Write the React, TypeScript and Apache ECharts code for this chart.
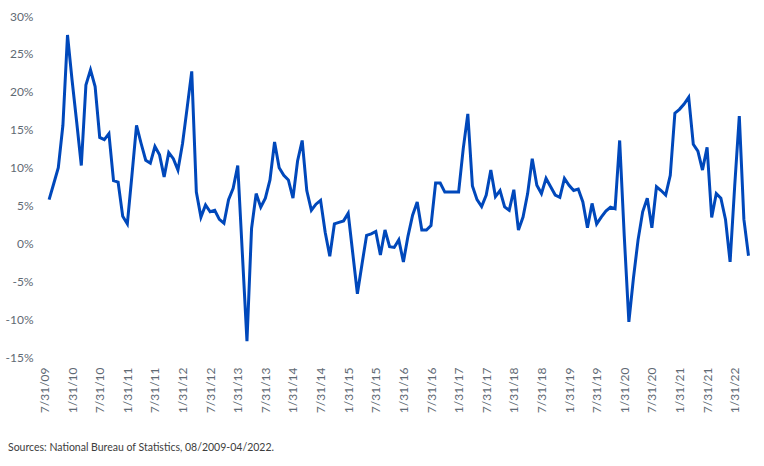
import React, { useEffect, useRef } from "react";
import * as echarts from "echarts";

// Year-over-year growth (%), monthly, 08/2009 – 04/2022.
// The axis opens one month earlier (7/31/09), so the first slot is empty.
const yoyGrowth: (number | null)[] = [
  null,
  // 2009 Aug–Dec
  5.8, 7.9, 10.0, 15.6, 27.5,
  // 2010
  21.5, 16.0, 10.3, 20.9, 22.9, 20.7, 14.0, 13.7, 14.5, 8.3, 8.1, 3.6,
  // 2011
  2.6, 9.0, 15.6, 13.2, 11.0, 10.6, 12.8, 11.7, 8.8, 12.0, 11.2, 9.7,
  // 2012
  13.2, 17.9, 22.7, 6.8, 3.5, 5.1, 4.2, 4.4, 3.2, 2.7, 5.8, 7.3,
  // 2013
  10.3, -1.3, -12.85, 2.0, 6.6, 4.8, 6.0, 8.4, 13.4, 10.0, 9.0, 8.4,
  // 2014
  6.0, 10.9, 13.6, 7.0, 4.4, 5.2, 5.7, 1.5, -1.65, 2.6, 2.8, 3.0,
  // 2015
  4.0, -1.3, -6.6, -2.7, 1.1, 1.3, 1.6, -1.5, 1.8, -0.4, -0.5, 0.5,
  // 2016
  -2.4, 1.0, 3.75, 5.5, 1.8, 1.8, 2.4, 8.0, 8.0, 6.8, 6.8, 6.8,
  // 2017
  6.8, 12.5, 17.1, 7.6, 5.8, 4.9, 6.4, 9.7, 6.2, 7.0, 4.85, 4.4,
  // 2018
  7.1, 1.8, 3.5, 6.6, 11.2, 7.7, 6.6, 8.6, 7.5, 6.4, 6.1, 8.6,
  // 2019
  7.7, 7.0, 7.2, 5.5, 2.1, 5.3, 2.6, 3.5, 4.3, 4.8, 4.6, 13.6,
  // 2020
  1.0, -10.3, -4.5, 0.5, 4.2, 6.0, 2.1, 7.5, 7.0, 6.4, 9.0, 17.2,
  // 2021
  17.7, 18.4, 19.3, 13.1, 12.2, 9.7, 12.7, 3.45, 6.6, 6.0, 3.2, -2.4,
  // 2022 Jan–Apr
  7.6, 16.8, 3.2, -1.6,
];

const axisStart = { year: 2009, month: 7 };
const yAxisRange = { min: -15, max: 30, interval: 5 };
const sourceNote = "Sources: National Bureau of Statistics, 08/2009-04/2022.";

// Month-end dates as "M/D/YY", one per slot of the series.
function monthEndLabels(year: number, month: number, count: number): string[] {
  const out: string[] = [];
  for (let i = 0; i < count; i++) {
    const m0 = month - 1 + i;
    const y = year + Math.floor(m0 / 12);
    const m = (m0 % 12) + 1;
    const lastDay = new Date(y, m, 0).getDate();
    out.push(`${m}/${lastDay}/${String(y % 100).padStart(2, "0")}`);
  }
  return out;
}

const months = monthEndLabels(axisStart.year, axisStart.month, yoyGrowth.length);

const FONT = "Lato, 'Noto Sans', sans-serif";
const LABEL_GREY = "#5f6a74";

export default function App() {
  const ref = useRef<HTMLDivElement | null>(null);

  useEffect(() => {
    document.body.style.margin = "0";
    if (!ref.current) return;
    const chart = echarts.init(ref.current, undefined, { renderer: "svg" });
    chart.setOption({
      animation: false,
      backgroundColor: "#ffffff",
      textStyle: { fontFamily: FONT },
      grid: { left: 44.5, right: 15.5, top: 16, bottom: 108.5, containLabel: false },
      xAxis: {
        type: "category",
        data: months,
        boundaryGap: false,
        axisLine: { show: false },
        axisTick: { show: false },
        splitLine: { show: false },
        axisLabel: {
          interval: 5,
          rotate: 90,
          margin: 10,
          fontSize: 12,
          fontFamily: FONT,
          color: LABEL_GREY,
        },
      },
      yAxis: {
        type: "value",
        min: yAxisRange.min,
        max: yAxisRange.max,
        interval: yAxisRange.interval,
        axisLine: { show: false },
        axisTick: { show: false },
        splitLine: { show: false },
        axisLabel: {
          formatter: "{value}%",
          margin: 11,
          fontSize: 12,
          fontFamily: FONT,
          color: LABEL_GREY,
        },
      },
      series: [
        {
          type: "line",
          data: yoyGrowth,
          showSymbol: false,
          symbol: "none",
          connectNulls: false,
          lineStyle: { color: "#0048bb", width: 3, join: "miter", cap: "butt" },
        },
      ],
      graphic: [
        {
          type: "text",
          left: 8,
          top: 441,
          style: {
            text: sourceNote,
            fontSize: 10.5,
            fontFamily: FONT,
            fill: "#3d3d3d",
          },
        },
      ],
    });
    return () => chart.dispose();
  }, []);

  return <div ref={ref} style={{ width: 764, height: 466 }} />;
}
